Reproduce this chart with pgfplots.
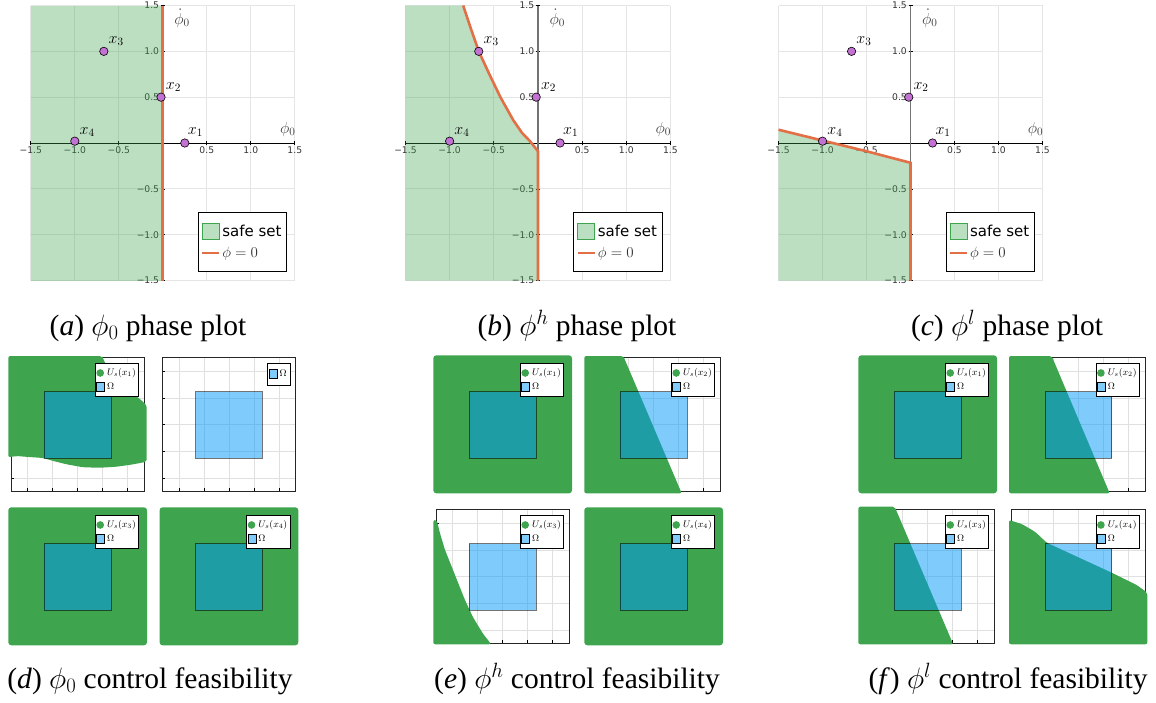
\RequirePackage{fix-cm}
\documentclass[border=0pt]{standalone}
\usepackage{fontspec}
\setmainfont{Liberation Serif}
\newfontfamily\djv{DejaVu Sans}
\usepackage{pgfplots}
\pgfplotsset{compat=1.18}
\definecolor{jgreen}{HTML}{3EA44E}
\definecolor{jorange}{HTML}{E26F46}
\definecolor{jpurple}{HTML}{C371D2}
\definecolor{jblue}{HTML}{009AFA}
\definecolor{omegalight}{HTML}{7FCCFC}
\tikzset{lbl/.style={font=\fontsize{16}{16}\selectfont, inner sep=0pt}}
\pgfplotsset{
 phase/.style={
  scale only axis, width=264pt, height=275pt, anchor=north west,
  xmin=-1.5,xmax=1.5,ymin=-1.5,ymax=1.5,
  axis lines=middle, axis line style={-},
  x axis line style={black, line width=0.9pt},
  y axis line style={black!55, line width=1.1pt},
  xtick={-1.5,-1,-0.5,0,0.5,1,1.5},
  ytick={-1.5,-1,-0.5,0,0.5,1,1.5},
  xticklabels={−1.5,−1.0,−0.5,,0.5,1.0,1.5},
  yticklabels={−1.5,−1.0,−0.5,,0.5,1.0,1.5},
  grid=major, grid style={black!10, line width=0.7pt},
  tick style={black, line width=0.6pt}, major tick length=4pt,
  tick label style={font=\djv\fontsize{9.2}{9.2}\selectfont, text=black!80, inner sep=1.5pt},
  legend style={at={(0.97,0.03)}, anchor=south east, draw=black, line width=0.8pt,
    font=\djv\fontsize{15}{17}\selectfont, inner xsep=3pt, inner ysep=11pt, row sep=5pt},
  legend cell align=left,
  clip=false,
 },
 cf/.style={
  scale only axis, width=133.3pt, height=134pt, anchor=north west,
  xmin=0,xmax=133.3,ymin=0,ymax=134, y dir=reverse,
  axis line style={black!85, line width=0.9pt},
  xtick={16.7,41.7,66.7,91.7,116.7}, ytick={14,40.7,67.4,94.1,120.8},
  xticklabels={}, yticklabels={},
  grid=major, grid style={black!12, line width=0.6pt},
  tick align=inside, major tick length=3pt, tick style={black, line width=0.6pt},
  xtick pos=left, ytick pos=left,
  clip=false,
  legend style={at={(axis cs:128.3,5.4)}, anchor=north east, draw=black, line width=0.9pt,
    font=\fontsize{9.5}{10}\selectfont, inner xsep=1pt, inner ysep=3.5pt, row sep=2pt, fill=white},
  legend cell align=left,
 },
}
\newcommand{\phaselegend}{%
 \addlegendimage{legend image code/.code={\fill[jgreen, fill opacity=0.35] (0pt,-8pt) rectangle (17pt,8pt); \draw[jgreen, line width=1pt] (0pt,8pt) -- (17pt,8pt);}}
 \addlegendentry{safe set}
 \addlegendimage{legend image code/.code={\draw[jorange, line width=2pt] (0pt,0pt) -- (17pt,0pt);}}
 \addlegendentry{\textcolor{black!80}{$\phi = 0$}}
}
\newcommand{\phasepoints}{%
 \addplot[only marks, mark=*, mark size=4.2pt, mark options={fill=jpurple, draw=black, line width=0.6pt}, forget plot]
  coordinates {(0.25,0) (-0.02,0.5) (-0.67,1.0) (-1.0,0.02)};
 \node[lbl] at (axis cs:0.37,0.12) {$x_1$};
 \node[lbl] at (axis cs:0.12,0.61) {$x_2$};
 \node[lbl] at (axis cs:-0.53,1.11) {$x_3$};
 \node[lbl] at (axis cs:-0.86,0.12) {$x_4$};
 \node[lbl, text=black!75] at (axis cs:0.22,1.36) {$\dot{\phi}_0$};
 \node[lbl, text=black!75] at (axis cs:1.42,0.15) {$\phi_0$};
}
\newcommand{\omegabox}{%
 \addplot[fill=jblue, fill opacity=0.5, draw=black, draw opacity=0.55, line width=0.8pt, forget plot]
  coordinates {(33.3,34.2) (100,34.2) (100,100.8) (33.3,100.8)} -- cycle;
}
\newcommand{\cflegend}[1]{%
 \addlegendimage{legend image code/.code={\fill[jgreen] (3.5pt,0pt) circle (3.3pt);}}
 \addlegendentry{$U_s(x_{#1})$}
 \addlegendimage{legend image code/.code={\draw[black, line width=0.8pt, fill=omegalight] (0pt,-4.5pt) rectangle (8pt,4.5pt);}}
 \addlegendentry{$\Omega$}
}
\newcommand{\fullgreen}{%
 \addplot[fill=jgreen, draw=none, rounded corners=3pt, forget plot]
  coordinates {(-2.7,-2) (136,-2) (136,136) (-2.7,136)} -- cycle;
}
\begin{document}
\begin{tikzpicture}[x=1pt,y=-1pt]
\path[use as bounding box] (0,0) rectangle (1156,702);

% (a)
\begin{axis}[phase, at={(35,-6)}]
\phaselegend
\addplot[draw=none, fill=jgreen, fill opacity=0.35, forget plot]
 coordinates {(-1.5,-1.5) (-1.5,1.5) (0,1.5) (0,-1.5)} -- cycle;
\addplot[jorange, line width=2.6pt, forget plot] coordinates {(0,-1.5) (0,1.5)};
\phasepoints
\end{axis}

% (b)
\begin{axis}[phase, at={(459,-6)}, width=265pt]
\phaselegend
\addplot[draw=none, fill=jgreen, fill opacity=0.35, forget plot]
 coordinates {(-1.5,-1.5) (-1.5,1.5) (-0.847,1.5) (-0.76,1.25) (-0.67,1.0) (-0.55,0.75) (-0.425,0.5) (-0.28,0.25) (-0.18,0.11) (-0.09,0.02) (0,-0.09) (0,-1.5)} -- cycle;
\addplot[jorange, line width=2.6pt, forget plot]
 coordinates {(-0.847,1.5) (-0.76,1.25) (-0.67,1.0) (-0.55,0.75) (-0.425,0.5) (-0.28,0.25) (-0.18,0.11) (-0.09,0.02) (0,-0.09) (0,-1.5)};
\phasepoints
\end{axis}

% (c)
\begin{axis}[phase, at={(884.7,-6)}]
\phaselegend
\addplot[draw=none, fill=jgreen, fill opacity=0.35, forget plot]
 coordinates {(-1.5,-1.5) (-1.5,0.145) (-1.0,0.027) (-0.5,-0.09) (0,-0.216) (0,-1.5)} -- cycle;
\addplot[jorange, line width=2.6pt, forget plot]
 coordinates {(-1.5,0.145) (-1.0,0.027) (-0.5,-0.09) (0,-0.216) (0,-1.5)};
\phasepoints
\end{axis}

% (d) panels
\begin{axis}[cf, at={(11,357.3)}]
\cflegend{1}
\addplot[fill=jgreen, draw=none, rounded corners=2pt, forget plot]
 coordinates {(-2.7,-1.3) (90.7,-1.3) (92.3,1) (94,6) (124,38) (128,41) (133,45.4) (135.7,48)
  (135.7,104.4) (122.3,107) (105.7,109.4) (89,110.4) (72.3,110) (55.7,107) (42.3,103.7) (32.3,100.7) (22.3,100) (14,99.4) (5.7,98.7) (-2.7,100)} -- cycle;
\omegabox
\end{axis}
\begin{axis}[cf, at={(162.3,357.3)}, legend style={inner ysep=5pt, inner xsep=1.5pt}]
\addlegendimage{legend image code/.code={\draw[black, line width=0.8pt, fill=omegalight] (0pt,-4.5pt) rectangle (8pt,4.5pt);}}
\addlegendentry{$\Omega$}
\omegabox
\end{axis}
\begin{axis}[cf, at={(11,509.3)}]
\cflegend{3}
\fullgreen
\omegabox
\end{axis}
\begin{axis}[cf, at={(162.3,509.3)}]
\cflegend{4}
\fullgreen
\omegabox
\end{axis}

% (e) panels
\begin{axis}[cf, at={(436,357.3)}]
\cflegend{1}
\fullgreen
\omegabox
\end{axis}
\begin{axis}[cf, at={(587,357.3)}]
\cflegend{2}
\addplot[fill=jgreen, draw=none, rounded corners=2pt, forget plot]
 coordinates {(-2.7,-1.3) (36.3,-1.3) (94.7,136) (-2.7,136)} -- cycle;
\omegabox
\end{axis}
\begin{axis}[cf, at={(436,509.3)}]
\cflegend{3}
\addplot[fill=jgreen, draw=none, rounded corners=2pt, forget plot]
 coordinates {(-2.7,10.7) (0.7,10.7) (4,24) (9,40.7) (15.7,57.4) (22.3,74) (29,90.7) (36.7,107.4) (46.7,124) (54,133.4) (54.7,135) (-2.7,135)} -- cycle;
\omegabox
\end{axis}
\begin{axis}[cf, at={(587,509.3)}]
\cflegend{4}
\fullgreen
\omegabox
\end{axis}

% (f) panels
\begin{axis}[cf, at={(861,357.3)}]
\cflegend{1}
\fullgreen
\omegabox
\end{axis}
\begin{axis}[cf, at={(1011.7,357.3)}]
\cflegend{2}
\addplot[fill=jgreen, draw=none, rounded corners=2pt, forget plot]
 coordinates {(-2.7,-1.3) (40,-1.3) (98,136) (-2.7,136)} -- cycle;
\omegabox
\end{axis}
\begin{axis}[cf, at={(861,509.3)}]
\cflegend{3}
\addplot[fill=jgreen, draw=none, rounded corners=2pt, forget plot]
 coordinates {(-2.7,-2.6) (33.7,-2.6) (92.2,135) (-2.7,135)} -- cycle;
\omegabox
\end{axis}
\begin{axis}[cf, at={(1011.7,509.3)}]
\cflegend{4}
\addplot[fill=jgreen, draw=none, rounded corners=2pt, forget plot]
 coordinates {(-2.7,10.7) (10,14.7) (23.3,22.4) (35,33.4) (100,63.4) (125,75.7) (135.6,83.4) (135.6,135) (-2.7,135)} -- cycle;
\omegabox
\end{axis}

% captions
\begin{scope}[every node/.style={anchor=base, font=\fontsize{29.5}{32}\selectfont, inner sep=0pt}]
\node at (148,335) {(\textit{a}) $\phi_0$ phase plot};
\node at (577,335) {(\textit{b}) $\phi^h$ phase plot};
\node at (1007,335) {(\textit{c}) $\phi^l$ phase plot};
\node at (150,688) {(\textit{d}) $\phi_0$ control feasibility};
\node at (577,688) {(\textit{e}) $\phi^h$ control feasibility};
\node at (1008,688) {(\textit{f}) $\phi^l$ control feasibility};
\end{scope}
\end{tikzpicture}
\end{document}
